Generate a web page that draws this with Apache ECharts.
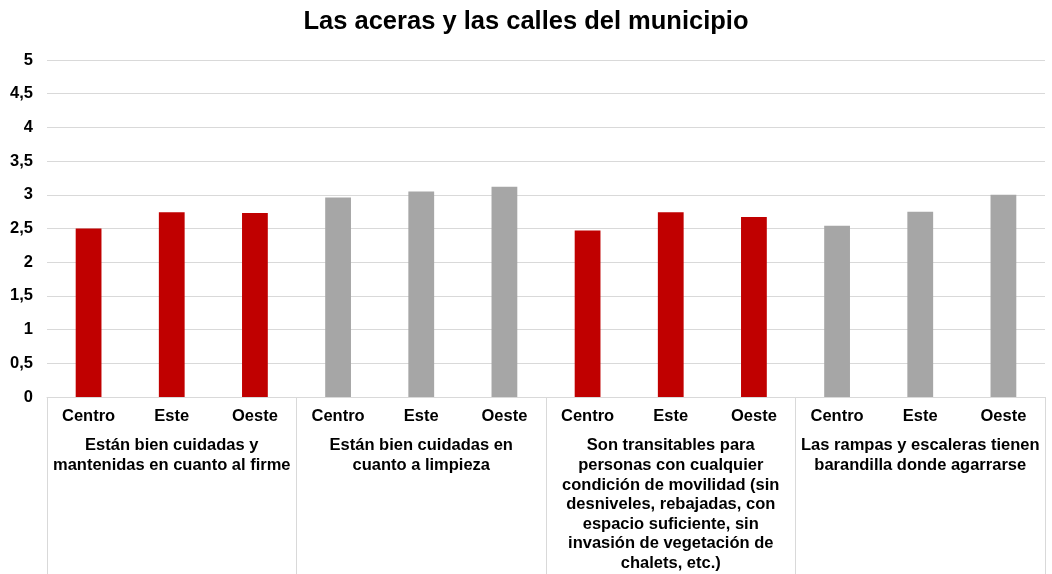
<!DOCTYPE html>
<html>
<head>
<meta charset="utf-8">
<script src="https://cdn.jsdelivr.net/npm/echarts@6/dist/echarts.min.js"></script>
<style>
  html, body { margin: 0; padding: 0; background: #fff; }
  #chart { width: 1052px; height: 574px; }
</style>
</head>
<body>
<div id="chart"></div>
<script>
// zonas por barra y grupos de preguntas
var zonas = ['Centro', 'Este', 'Oeste', 'Centro', 'Este', 'Oeste', 'Centro', 'Este', 'Oeste', 'Centro', 'Este', 'Oeste'];
var grupos = [
  'Están bien cuidadas y\nmantenidas en cuanto al firme',
  'Están bien cuidadas en\ncuanto a limpieza',
  'Son transitables para\npersonas con cualquier\ncondición de movilidad (sin\ndesniveles, rebajadas, con\nespacio suficiente, sin\ninvasión de vegetación de\nchalets, etc.)',
  'Las rampas y escaleras tienen\nbarandilla donde agarrarse'
];
var valores = [2.5, 2.74, 2.73, 2.96, 3.05, 3.12, 2.47, 2.74, 2.67, 2.54, 2.75, 3.0];
var colores = ['#c00000', '#a6a6a6'];

var chart = echarts.init(document.getElementById('chart'));

var option = {
  animation: false,
  textStyle: { fontFamily: 'Liberation Sans, Arial, sans-serif' },
  title: {
    text: 'Las aceras y las calles del municipio',
    left: 'center',
    top: 4,
    textStyle: { fontSize: 25.5, fontWeight: 'bold', color: '#000' }
  },
  grid: { left: 47, right: 7, top: 60, bottom: 177 },
  xAxis: [
    {
      type: 'category',
      data: zonas,
      axisLine: { show: true, lineStyle: { color: '#d9d9d9', width: 1 } },
      axisTick: { show: false },
      axisLabel: { interval: 0, margin: 11, fontSize: 16.5, fontWeight: 'bold', color: '#000' }
    },
    {
      type: 'category',
      data: grupos,
      position: 'bottom',
      axisLine: { show: false },
      axisTick: { show: true, length: 177, interval: 0, lineStyle: { color: '#d9d9d9', width: 1 } },
      axisLabel: {
        interval: 0, margin: 39, fontSize: 16.5, fontWeight: 'bold', color: '#000',
        lineHeight: 19.6, align: 'center', verticalAlign: 'top'
      }
    }
  ],
  yAxis: {
    type: 'value',
    min: 0,
    max: 5,
    interval: 0.5,
    axisLine: { show: false },
    axisTick: { show: false },
    splitLine: { lineStyle: { color: '#d9d9d9', width: 1 } },
    axisLabel: {
      margin: 14, fontSize: 16.5, fontWeight: 'bold', color: '#000',
      formatter: function (v) { return String(v).replace('.', ','); }
    }
  },
  series: [
    {
      type: 'bar',
      xAxisIndex: 0,
      data: valores,
      barWidth: '31%',
      itemStyle: {
        color: function (p) { return colores[Math.floor(p.dataIndex / 3) % 2]; }
      }
    }
  ]
};

chart.setOption(option);
</script>
</body>
</html>
